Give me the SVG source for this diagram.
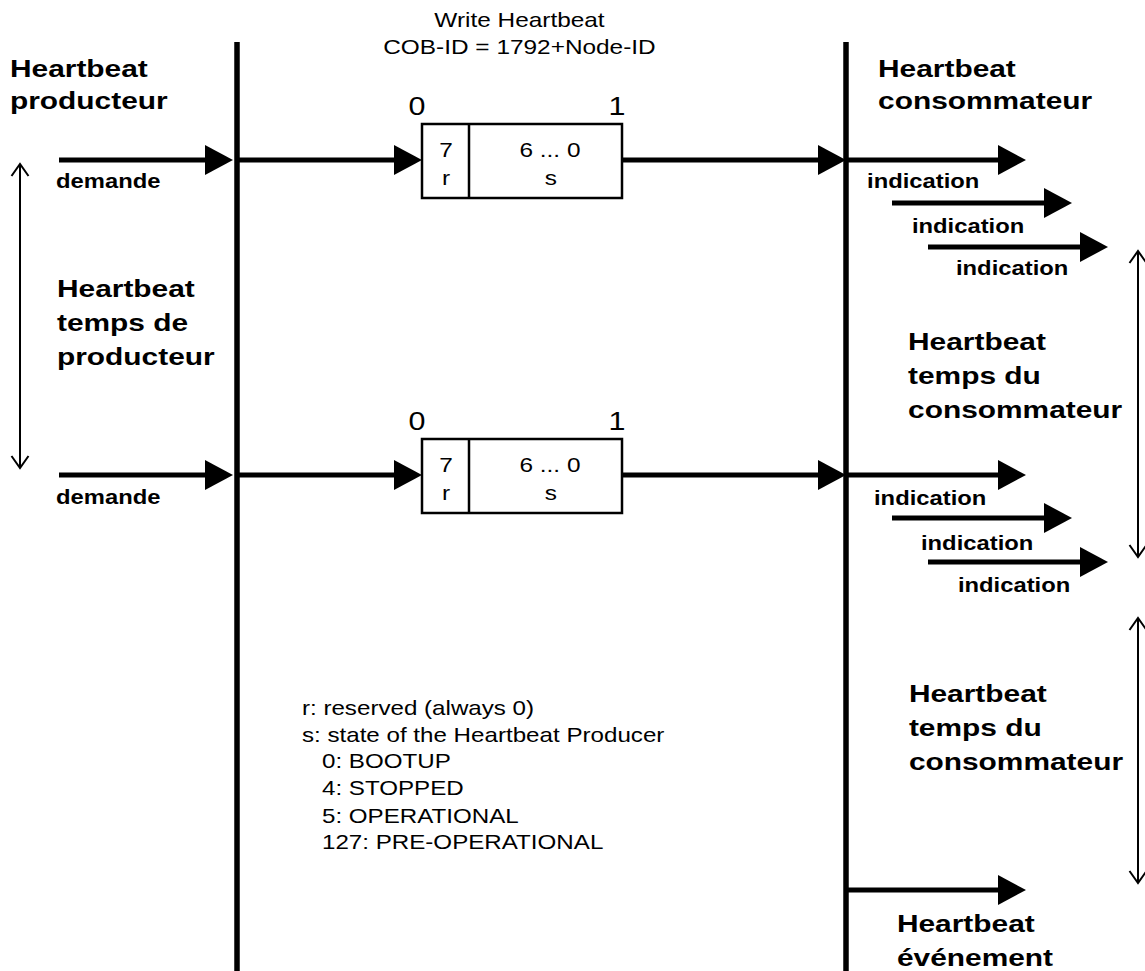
<svg xmlns="http://www.w3.org/2000/svg" width="1145" height="971" viewBox="0 0 1145 971">
  <style>
    .bus { stroke: #000; stroke-width: 5.5; fill: none; }
    .flow { stroke: #000; stroke-width: 5; fill: none; marker-end: url(#head); }
    .span { stroke: #000; stroke-width: 2; fill: none; marker-start: url(#open); marker-end: url(#open); }
    .frame { stroke: #000; stroke-width: 2.5; fill: #fff; }
    text { font-family: "Liberation Sans", Arial, sans-serif; fill: #000; }
    .hd { font-size: 24.5px; font-weight: bold; }
    .sm { font-size: 19.5px; font-weight: bold; }
    .rg { font-size: 20px; }
    .lg { font-size: 19.8px; }
    .bit { font-size: 25px; }
    .mid { text-anchor: middle; }
  </style>
  <defs>
    <!-- filled head; tip sits 20px past the line end -->
    <marker id="head" viewBox="0 0 28 30" refX="8" refY="15" markerWidth="28" markerHeight="30" markerUnits="userSpaceOnUse" orient="auto">
      <path d="M0,0 L28,15 L0,30 z" fill="#000"/>
    </marker>
    <!-- open chevron for time spans -->
    <marker id="open" viewBox="-14 -10 16 20" refX="0" refY="0" markerWidth="16" markerHeight="20" markerUnits="userSpaceOnUse" orient="auto-start-reverse">
      <path d="M-12,-8.5 L0,0 L-12,8.5" fill="none" stroke="#000" stroke-width="2"/>
    </marker>
  </defs>
  <rect width="1145" height="971" fill="#fff"/>

  <!-- producer / consumer bus lines -->
  <g id="buses">
    <line class="bus" x1="237" y1="42" x2="237" y2="971"/>
    <line class="bus" x1="846" y1="42" x2="846" y2="971"/>
  </g>

  <!-- message flow and time spans -->
  <g id="connectors">
    <line class="flow" x1="59" y1="160" x2="213" y2="160"/>
    <line class="flow" x1="237" y1="160" x2="402" y2="160"/>
    <line class="flow" x1="622" y1="160" x2="826" y2="160"/>
    <line class="flow" x1="846" y1="160" x2="1006" y2="160"/>
    <line class="flow" x1="892" y1="203" x2="1052" y2="203"/>
    <line class="flow" x1="928" y1="247" x2="1088" y2="247"/>

    <line class="flow" x1="59" y1="475" x2="213" y2="475"/>
    <line class="flow" x1="237" y1="475" x2="402" y2="475"/>
    <line class="flow" x1="622" y1="475" x2="826" y2="475"/>
    <line class="flow" x1="846" y1="475" x2="1006" y2="475"/>
    <line class="flow" x1="892" y1="518" x2="1052" y2="518"/>
    <line class="flow" x1="928" y1="562" x2="1088" y2="562"/>

    <line class="flow" x1="846" y1="890" x2="1006" y2="890"/>

    <line class="span" x1="20" y1="164" x2="20" y2="468"/>
    <line class="span" x1="1138" y1="251" x2="1138" y2="557"/>
    <line class="span" x1="1138" y1="618" x2="1138" y2="883"/>
  </g>

  <!-- heartbeat frames -->
  <g id="frame1">
    <rect class="frame" x="422" y="124" width="200" height="74"/>
    <line class="frame" x1="469" y1="124" x2="469" y2="198"/>
    <g transform="scale(1.22 1)">
      <text class="bit mid" x="341.8" y="115">0</text>
      <text class="bit mid" x="505.7" y="115">1</text>
      <text class="rg mid" x="365.6" y="157">7</text>
      <text class="rg mid" x="365.6" y="185">r</text>
      <text class="rg mid" x="450.8" y="157">6 ... 0</text>
      <text class="rg mid" x="451.6" y="185">s</text>
    </g>
  </g>
  <g id="frame2">
    <rect class="frame" x="422" y="439" width="200" height="74"/>
    <line class="frame" x1="469" y1="439" x2="469" y2="513"/>
    <g transform="scale(1.22 1)">
      <text class="bit mid" x="341.8" y="430">0</text>
      <text class="bit mid" x="505.7" y="430">1</text>
      <text class="rg mid" x="365.6" y="472">7</text>
      <text class="rg mid" x="365.6" y="500">r</text>
      <text class="rg mid" x="450.8" y="472">6 ... 0</text>
      <text class="rg mid" x="451.6" y="500">s</text>
    </g>
  </g>

  <g id="title" transform="scale(1.22 1)">
    <text class="rg mid" x="425.8" y="27">Write Heartbeat</text>
    <text class="rg mid" x="425.8" y="54">COB-ID = 1792+Node-ID</text>
  </g>

  <g id="producer" transform="scale(1.22 1)">
    <text class="hd" x="8.2" y="77">Heartbeat</text>
    <text class="hd" x="8.2" y="109">producteur</text>
  </g>
  <g id="consumer" transform="scale(1.22 1)">
    <text class="hd" x="719.7" y="77">Heartbeat</text>
    <text class="hd" x="719.7" y="109">consommateur</text>
  </g>

  <g id="requests" transform="scale(1.22 1)">
    <text class="sm" x="45.9" y="188">demande</text>
    <text class="sm" x="45.9" y="504">demande</text>
  </g>

  <g id="producer-time" transform="scale(1.22 1)">
    <text class="hd" x="46.7" y="297">Heartbeat</text>
    <text class="hd" x="46.7" y="331">temps de</text>
    <text class="hd" x="46.7" y="365">producteur</text>
  </g>

  <g id="indications1" transform="scale(1.22 1)">
    <text class="sm" x="710.7" y="188">indication</text>
    <text class="sm" x="747.5" y="233">indication</text>
    <text class="sm" x="783.6" y="275">indication</text>
  </g>
  <g id="indications2" transform="scale(1.22 1)">
    <text class="sm" x="716.4" y="505">indication</text>
    <text class="sm" x="754.9" y="550">indication</text>
    <text class="sm" x="785.2" y="592">indication</text>
  </g>

  <g id="consumer-time1" transform="scale(1.22 1)">
    <text class="hd" x="744.3" y="350">Heartbeat</text>
    <text class="hd" x="744.3" y="384">temps du</text>
    <text class="hd" x="744.3" y="418">consommateur</text>
  </g>
  <g id="consumer-time2" transform="scale(1.22 1)">
    <text class="hd" x="745" y="702">Heartbeat</text>
    <text class="hd" x="745" y="736">temps du</text>
    <text class="hd" x="745" y="770">consommateur</text>
  </g>

  <g id="event" transform="scale(1.22 1)">
    <text class="hd" x="735.2" y="932">Heartbeat</text>
    <text class="hd" x="735.2" y="966">événement</text>
  </g>

  <g id="legend" transform="scale(1.22 1)">
    <text class="lg" x="247.5" y="715">r: reserved (always 0)</text>
    <text class="lg" x="247.5" y="742">s: state of the Heartbeat Producer</text>
    <text class="lg" x="263.9" y="768">0: BOOTUP</text>
    <text class="lg" x="263.9" y="795">4: STOPPED</text>
    <text class="lg" x="263.9" y="823">5: OPERATIONAL</text>
    <text class="lg" x="263.9" y="849">127: PRE-OPERATIONAL</text>
  </g>
</svg>
